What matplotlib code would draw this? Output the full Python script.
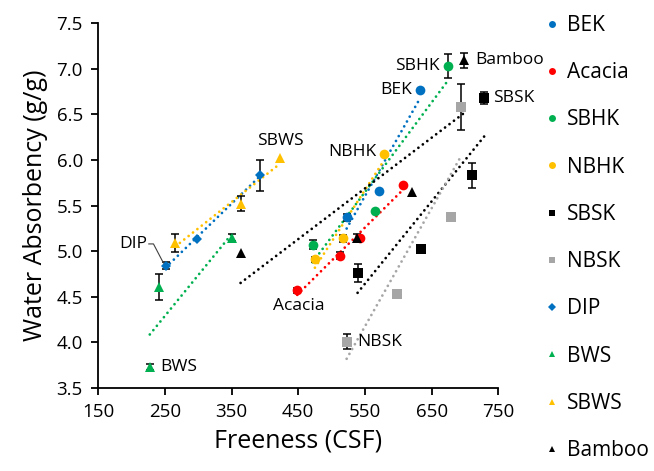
import numpy as np
import matplotlib
matplotlib.use("Agg")
import matplotlib.pyplot as plt
from matplotlib.lines import Line2D

plt.rcParams['font.family'] = ['Open Sans', 'DejaVu Sans']

series_names = ["BEK", "Acacia", "SBHK", "NBHK", "SBSK", "NBSK", "DIP", "BWS", "SBWS", "Bamboo"]
colors = ["#0070C0", "#FF0000", "#00B050", "#FFC000", "#000000", "#A6A6A6",
          "#0070C0", "#00B050", "#FFC000", "#000000"]
markers = ["o", "o", "o", "o", "s", "s", "D", "^", "^", "^"]

bek_x = [522.6, 571, 632.5]
bek_y = [5.37, 5.66, 6.77]
bek_e = [0.04, 0, 0]
acacia_x = [448.5, 512.5, 542.5, 607.5]
acacia_y = [4.57, 4.95, 5.14, 5.73]
acacia_e = [0.03, 0.04, 0, 0]
sbhk_x = [471.6, 565, 674]
sbhk_y = [5.07, 5.44, 7.03]
sbhk_e = [0.05, 0, 0.13]
nbhk_x = [475, 516.6, 579]
nbhk_y = [4.91, 5.14, 6.06]
nbhk_e = [0.03, 0.04, 0]
sbsk_x = [539, 633.6, 710, 729]
sbsk_y = [4.76, 5.02, 5.83, 6.68]
sbsk_e = [0.10, 0.03, 0.14, 0.07]
nbsk_x = [522.6, 597.6, 678.6, 693.6]
nbsk_y = [4.01, 4.53, 5.37, 6.58]
nbsk_e = [0.08, 0, 0.04, 0.25]
dip_x = [251.5, 298.5, 392.5]
dip_y = [4.84, 5.13, 5.83]
dip_e = [0.04, 0, 0.17]
bws_x = [227.5, 241, 351]
bws_y = [3.73, 4.61, 5.15]
bws_e = [0.03, 0.14, 0.04]
sbws_x = [266, 364, 422.5]
sbws_y = [5.09, 5.52, 6.02]
sbws_e = [0.10, 0.08, 0]
bamboo_x = [363.6, 538.5, 620, 699]
bamboo_y = [4.98, 5.15, 5.65, 7.09]
bamboo_e = [0, 0.04, 0, 0.08]

xs = [bek_x, acacia_x, sbhk_x, nbhk_x, sbsk_x, nbsk_x, dip_x, bws_x, sbws_x, bamboo_x]
ys = [bek_y, acacia_y, sbhk_y, nbhk_y, sbsk_y, nbsk_y, dip_y, bws_y, sbws_y, bamboo_y]
es = [bek_e, acacia_e, sbhk_e, nbhk_e, sbsk_e, nbsk_e, dip_e, bws_e, sbws_e, bamboo_e]

x_ticks = [150, 250, 350, 450, 550, 650, 750]
y_ticks = [3.5, 4.0, 4.5, 5.0, 5.5, 6.0, 6.5, 7.0, 7.5]

fig = plt.figure(figsize=(6.54, 4.71), dpi=100)
ax = fig.add_axes([0.150, 0.176, 0.612, 0.775])

msizes = {"o": 7, "s": 7, "D": 5.5, "^": 7}
for name, x, y, e, c, m in zip(series_names, xs, ys, es, colors, markers):
    x = np.array(x, float); y = np.array(y, float); e = np.array(e, float)
    k, b = np.polyfit(x, y, 1)
    xl = np.array([x.min(), x.max()])
    ax.plot(xl, k * xl + b, linestyle=(0, (0.01, 2.0)), color=c, lw=2.0,
            dash_capstyle='round', zorder=2)
    mask = e > 0
    if mask.any():
        ax.errorbar(x[mask], y[mask], yerr=e[mask], fmt='none', ecolor='black',
                    elinewidth=1.1, capsize=3, capthick=1.1, zorder=3)
    ax.plot(x, y, linestyle='none', marker=m, color=c, markersize=msizes[m],
            markeredgewidth=0, zorder=4)

ann_fs = 12.5
ax.text(620.5, 6.77, "BEK", ha='right', va='center', fontsize=ann_fs)
ax.text(662, 7.03, "SBHK", ha='right', va='center', fontsize=ann_fs)
ax.text(716, 7.09, "Bamboo", ha='left', va='center', fontsize=ann_fs)
ax.text(742, 6.68, "SBSK", ha='left', va='center', fontsize=ann_fs)
ax.text(423, 6.21, "SBWS", ha='center', va='center', fontsize=ann_fs)
ax.text(567, 6.09, "NBHK", ha='right', va='center', fontsize=ann_fs)
ax.text(451, 4.40, "Acacia", ha='center', va='center', fontsize=ann_fs)
ax.text(538.5, 4.00, "NBSK", ha='left', va='center', fontsize=ann_fs)
ax.text(242.5, 3.73, "BWS", ha='left', va='center', fontsize=ann_fs)
ax.text(223, 5.08, "DIP", ha='right', va='center', fontsize=ann_fs)
ax.plot([226, 233, 248], [5.08, 5.08, 4.87], color='#404040', lw=0.8, zorder=3)

ax.set_xlim(150, 750)
ax.set_ylim(3.5, 7.5)
ax.set_xticks(x_ticks)
ax.set_yticks(y_ticks)
ax.set_yticklabels([f"{v:.1f}" for v in y_ticks])
ax.tick_params(direction='out', length=5, width=1.3, labelsize=13.5, pad=6)
for s in ['top', 'right']:
    ax.spines[s].set_visible(False)
for s in ['left', 'bottom']:
    ax.spines[s].set_linewidth(1.3)
ax.set_xlabel("Freeness (CSF)", fontsize=18, labelpad=5)
ax.set_ylabel("Water Absorbency (g/g)", fontsize=18, labelpad=6)

handles = [Line2D([], [], linestyle='none', marker=m, color=c,
                  markersize=(5 if m != 'D' else 4), markeredgewidth=0)
           for m, c in zip(markers, colors)]
fig.legend(handles, series_names, loc='upper left', bbox_to_anchor=(0.818, 0.986),
           frameon=False, fontsize=15, handletextpad=0.35, labelspacing=1.26,
           handlelength=0.8, borderaxespad=0)

fig.savefig("out.png", dpi=100)
